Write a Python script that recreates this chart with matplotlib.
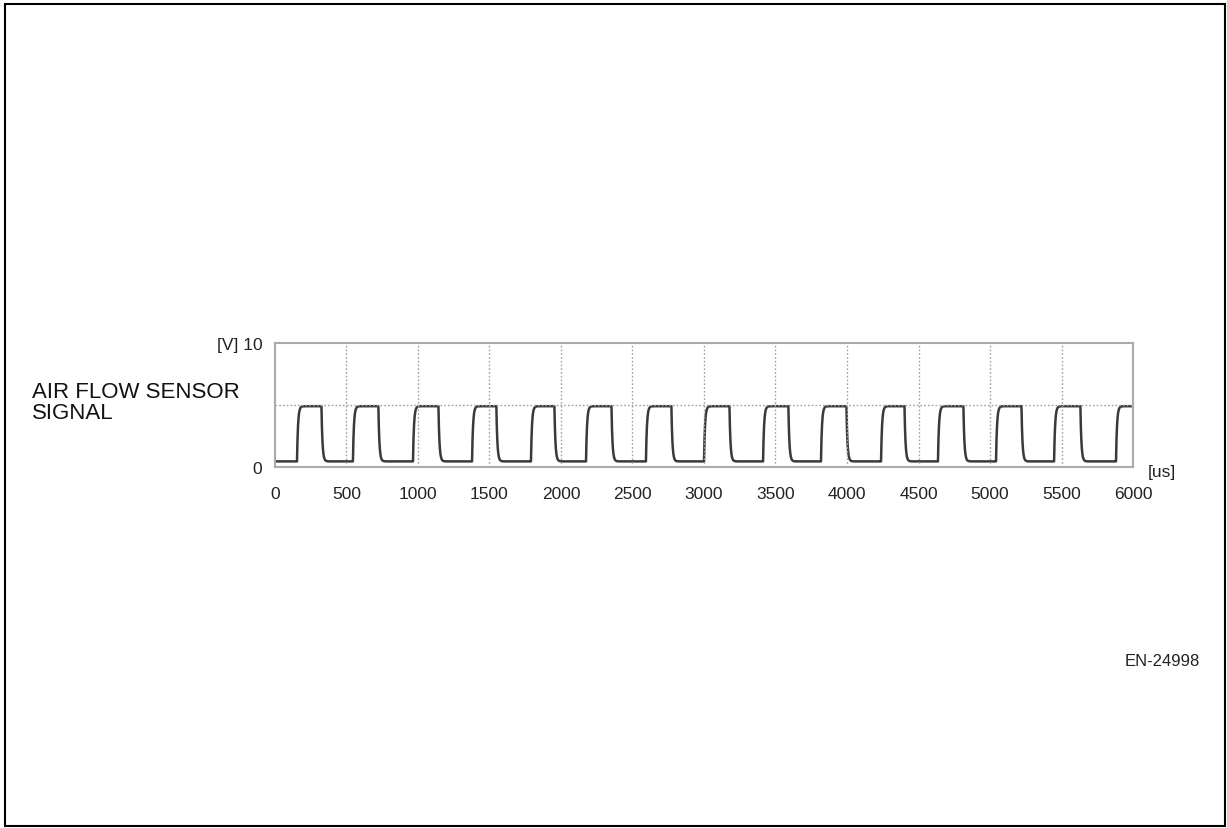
import numpy as np
import matplotlib.pyplot as plt
from matplotlib.patches import Rectangle

plt.rcParams["font.family"] = ["Liberation Sans", "DejaVu Sans"]

# pulse edges of the air flow sensor output [us]
rise_times = [154, 545, 965, 1378, 1790, 2175, 2594, 3000, 3413, 3818,
              4238, 4636, 5042, 5448, 5881]
fall_times = [325, 723, 1143, 1548, 1954, 2353, 2772, 3178, 3590, 3996,
              4402, 4814, 5220, 5632]
v_high = 4.9
v_low = 0.45

x_ticks = [0, 500, 1000, 1500, 2000, 2500, 3000, 3500, 4000, 4500,
           5000, 5500, 6000]


def signal(t, rises, falls, lo, hi, tau=7.0):
    # RC-like edges: exponential approach to the new level after each edge
    edges = sorted([(r, hi) for r in rises] + [(f, lo) for f in falls])
    v = np.full_like(t, lo)
    cur = lo
    for i, (t_edge, target) in enumerate(edges):
        nxt = edges[i + 1][0] if i + 1 < len(edges) else t[-1] + 1
        seg = (t >= t_edge) & (t < nxt)
        v[seg] = target + (cur - target) * np.exp(-(t[seg] - t_edge) / tau)
        if seg.any():
            cur = v[seg][-1]
    return v


t = np.linspace(0, 6000, 12001)
v = signal(t, rise_times, fall_times, v_low, v_high)

fig = plt.figure(figsize=(12.27, 8.29), dpi=100)
ax = fig.add_axes([0.2241, 0.4355, 0.6993, 0.1496])

ax.plot(t, v, color="#3a3a3a", linewidth=1.8)

ax.set_xlim(0, 6000)
ax.set_ylim(0, 10)
ax.set_xticks(x_ticks)
ax.set_xticklabels([str(x) for x in x_ticks], fontsize=12.5, color="#222222")
ax.set_yticks([0, 10])
ax.set_yticklabels(["0", "[V] 10"], fontsize=12.5, color="#222222")
ax.tick_params(length=0)
ax.tick_params(axis="x", pad=14)
ax.tick_params(axis="y", pad=9)

for x in x_ticks[1:-1]:
    ax.axvline(x, color="#a0a0a0", linestyle=(0, (1.2, 1.5)), linewidth=1)
ax.axhline(5, color="#a0a0a0", linestyle=(0, (1.2, 1.5)), linewidth=1)

for s in ax.spines.values():
    s.set_color("#aaaaaa")
    s.set_linewidth(1.5)

ax.text(1.017, -0.04, "[us]", transform=ax.transAxes, fontsize=12.5,
        ha="left", va="center", color="#222222")

fig.text(32 / 1227, 1 - 403 / 829, "AIR FLOW SENSOR\nSIGNAL", fontsize=16,
         ha="left", va="center", linespacing=1.0, color="#111111")
fig.text(1200 / 1227, 1 - 661 / 829, "EN-24998", fontsize=12,
         ha="right", va="center", color="#222222")

# outer frame
fig.patches.append(Rectangle((5 / 1227, 2 / 829), 1220 / 1227, 822 / 829,
                             transform=fig.transFigure, fill=False,
                             edgecolor="black", linewidth=1.5))

fig.savefig("out.png", dpi=100)
